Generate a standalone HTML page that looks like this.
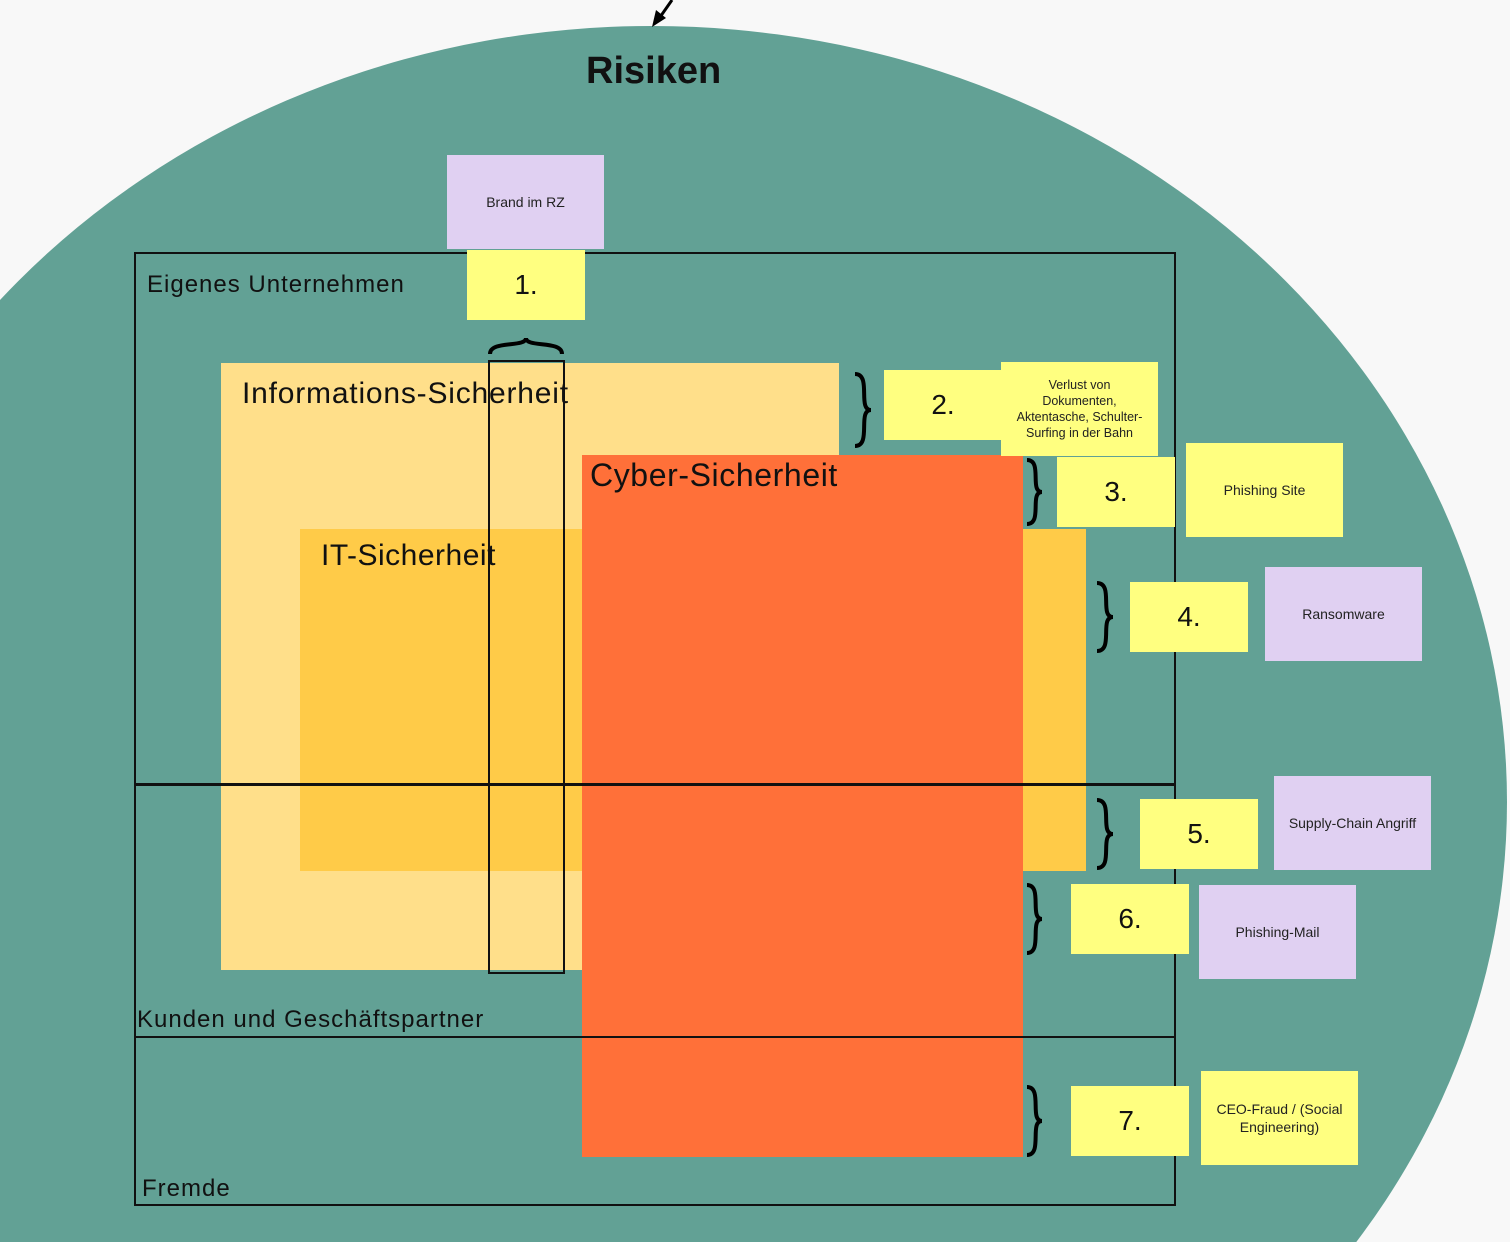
<!DOCTYPE html>
<html><head><meta charset="utf-8"><style>
html,body{margin:0;width:1510px;height:1242px;overflow:hidden}
body{background:#f8f8f8;font-family:"Liberation Sans",sans-serif;position:relative}
.a{position:absolute;box-sizing:border-box}
svg.a{overflow:hidden}
.n{display:flex;align-items:center;justify-content:center;text-align:center}
.y{background:#ffff80;font-size:28px;color:#111}
.p{background:#e0d0f2;font-size:14px;color:#222}
.ys{background:#ffff80;font-size:14px;color:#222}
.lbl{color:#111;white-space:nowrap;line-height:1}
</style></head><body>
<svg class="a" style="left:0;top:0" width="1510" height="1242">
<ellipse cx="652" cy="802" rx="855" ry="776" fill="#62a195"/>
<path d="M672,0 L658,20" stroke="#000" stroke-width="3"/>
<path d="M652,27 L656,10 L666,18 Z" fill="#000"/>
</svg>
<div class="a" style="left:221px;top:363px;width:618px;height:607px;background:#ffdf8a"></div>
<div class="a" style="left:300px;top:529px;width:786px;height:342px;background:#ffcb48"></div>
<div class="a" style="left:582px;top:455px;width:441px;height:702px;background:#ff7039"></div>
<div class="a lbl" style="left:242px;top:379px;font-size:30px;letter-spacing:0.8px">Informations-Sicherheit</div>
<div class="a lbl" style="left:321px;top:541px;font-size:30px;letter-spacing:0.5px">IT-Sicherheit</div>
<div class="a lbl" style="left:590px;top:459px;font-size:32px;letter-spacing:0.6px">Cyber-Sicherheit</div>
<div class="a" style="left:134px;top:252px;width:1042px;height:954px;border:2px solid #111"></div>
<div class="a" style="left:134px;top:783px;width:1042px;height:3px;background:#111"></div>
<div class="a" style="left:134px;top:1036px;width:1042px;height:2px;background:#111"></div>
<div class="a" style="left:488px;top:360px;width:77px;height:614px;border:2px solid #111"></div>
<div class="a lbl" style="left:147px;top:273px;font-size:24px;letter-spacing:1px">Eigenes Unternehmen</div>
<div class="a lbl" style="left:137px;top:1008px;font-size:24px;letter-spacing:1px">Kunden und Geschäftspartner</div>
<div class="a lbl" style="left:142px;top:1177px;font-size:24px;letter-spacing:1px">Fremde</div>
<div class="a lbl" style="left:586px;top:52px;font-size:38px;font-weight:bold">Risiken</div>

<div class="a n p" style="left:447px;top:155px;width:157px;height:94px">Brand im RZ</div>
<div class="a n y" style="left:467px;top:250px;width:118px;height:70px">1.</div>
<div class="a n y" style="left:884px;top:370px;width:118px;height:70px">2.</div>
<div class="a n ys" style="left:1001px;top:362px;width:157px;height:94px;font-size:12.5px;line-height:1.3;padding:0 10px">Verlust von Dokumenten, Aktentasche, Schulter-Surfing in der Bahn</div>
<div class="a n y" style="left:1057px;top:457px;width:118px;height:70px">3.</div>
<div class="a n ys" style="left:1186px;top:443px;width:157px;height:94px">Phishing Site</div>
<div class="a n y" style="left:1130px;top:582px;width:118px;height:70px">4.</div>
<div class="a n p" style="left:1265px;top:567px;width:157px;height:94px">Ransomware</div>
<div class="a n y" style="left:1140px;top:799px;width:118px;height:70px">5.</div>
<div class="a n p" style="left:1274px;top:776px;width:157px;height:94px">Supply-Chain Angriff</div>
<div class="a n y" style="left:1071px;top:884px;width:118px;height:70px">6.</div>
<div class="a n p" style="left:1199px;top:885px;width:157px;height:94px">Phishing-Mail</div>
<div class="a n y" style="left:1071px;top:1086px;width:118px;height:70px">7.</div>
<div class="a n ys" style="left:1201px;top:1071px;width:157px;height:94px;line-height:1.3">CEO-Fraud / (Social Engineering)</div>

<svg class="a" style="left:0;top:0" width="1510" height="1242" fill="none" stroke="#000" stroke-width="4">
<path d="M490,354 C490,340 526,348 526,338 C526,348 562,340 562,354"/>
<path d="M855,374 C872,374 857,410 871,410 C857,410 872,446 855,446"/>
<path d="M1027,460 C1043,460 1029,492 1042,492 C1029,492 1043,524 1027,524"/>
<path d="M1097,583 C1114,583 1099,617 1113,617 C1099,617 1114,651 1097,651"/>
<path d="M1097,800 C1114,800 1099,834 1113,834 C1099,834 1114,868 1097,868"/>
<path d="M1027,885 C1043,885 1029,919 1042,919 C1029,919 1043,953 1027,953"/>
<path d="M1027,1087 C1043,1087 1029,1121 1042,1121 C1029,1121 1043,1155 1027,1155"/>
</svg>
</body></html>
